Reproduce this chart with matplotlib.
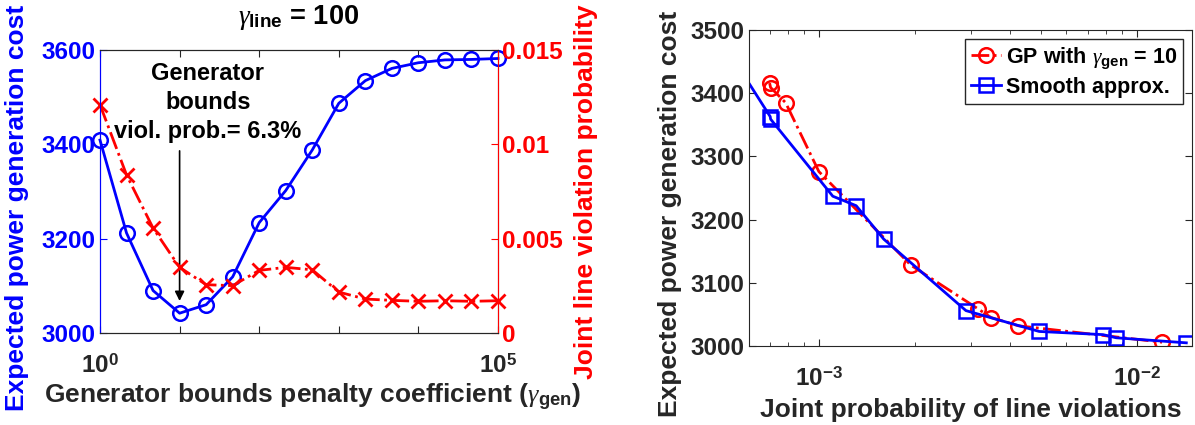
import numpy as np
import matplotlib.pyplot as plt
from matplotlib.ticker import FixedLocator, NullLocator, LogLocator, NullFormatter

plt.rcParams['font.family'] = ['Liberation Sans', 'DejaVu Sans']
plt.rcParams['font.weight'] = 'bold'
plt.rcParams['mathtext.fontset'] = 'custom'
plt.rcParams['mathtext.rm'] = 'Liberation Sans:bold'
plt.rcParams['mathtext.bf'] = 'Liberation Sans:bold'
plt.rcParams['mathtext.it'] = 'Liberation Serif:italic:weight=normal'

# left panel: sweep of generator penalty coefficient
gamma_gen = 10 ** (np.arange(16) / 3)
cost = [3409, 3212, 3090, 3042, 3060, 3119, 3234, 3302, 3388, 3487,
        3535, 3561, 3573, 3579, 3580, 3582]
line_prob = [0.0121, 0.00838, 0.00556, 0.00348, 0.00256, 0.00251, 0.00332,
             0.00348, 0.00335, 0.00217, 0.00180, 0.00173, 0.00168, 0.00171,
             0.00168, 0.00171]

# right panel: cost vs joint line violation probability
gp_prob = [7.0e-4, 7.05e-4, 7.86e-4, 1.0e-3, 1.945e-3, 3.16e-3, 3.48e-3, 4.24e-3, 1.2e-2]
gp_cost = [3416, 3409, 3385, 3276, 3128, 3059, 3045, 3032, 3006]
sm_prob = [5.0e-4, 7.03e-4, 7.05e-4, 1.106e-3, 1.31e-3, 1.60e-3, 2.90e-3, 4.93e-3,
           7.82e-3, 8.61e-3, 1.43e-2]
sm_cost = [3480, 3363, 3359, 3237, 3222, 3169, 3056, 3023, 3018, 3013, 3005]

gray = (0.15, 0.15, 0.15)
tfs = 17.5
lfs = 19

fig = plt.figure(figsize=(11.95, 4.25), dpi=100)

ax = fig.add_axes([100 / 1195, 1 - 333 / 425, 398 / 1195, 283 / 425])
ax.plot(gamma_gen, cost, '-o', color='b', lw=2, ms=10.5, mfc='none', mew=1.8, clip_on=False)
ax.set_xscale('log')
ax.set_xlim(1, 1e5)
ax.set_ylim(3000, 3600)
ax.set_yticks([3000, 3200, 3400, 3600])
ax.xaxis.set_major_locator(FixedLocator([1, 10, 100, 1e3, 1e4, 1e5]))
ax.xaxis.set_minor_locator(NullLocator())
ax.set_xticklabels([r'$10^{0}$', '', '', '', '', r'$10^{5}$'])
ax.tick_params(axis='y', colors='b', labelsize=tfs, direction='in', length=5, pad=3)
ax.tick_params(axis='x', colors=gray, labelsize=tfs, direction='in', length=5, top=True, pad=15)
ax.spines['left'].set_color('b')
ax.spines['bottom'].set_color(gray)
ax.spines['top'].set_color(gray)
ax.set_ylabel('Expected power generation cost', color='b', fontsize=lfs, fontweight='bold')
ax.yaxis.set_label_coords(-0.2085, 0.4417)
ax.yaxis.label.set_va('center')
ax.set_xlabel(r'Generator bounds penalty coefficient ($\gamma_{\mathbf{gen}}$)', color=gray,
              fontsize=lfs, fontweight='bold')
ax.xaxis.set_label_coords(0.533, -0.226)
ax.xaxis.label.set_va('center')
ax.set_title(r'$\gamma_{\mathbf{line}}$ = 100', fontsize=19.5, fontweight='bold', pad=19)

ax2 = ax.twinx()
ax2.plot(gamma_gen, line_prob, '-.x', color='r', lw=2, ms=10, mew=2, clip_on=False)
ax2.set_ylim(0, 0.015)
ax2.set_yticks([0, 0.005, 0.01, 0.015])
ax2.set_yticklabels(['0', '0.005', '0.01', '0.015'])
ax2.tick_params(axis='y', colors='r', labelsize=tfs, direction='in', length=5, pad=3)
ax2.spines['right'].set_color('r')
ax2.spines['left'].set_color('b')
ax2.spines['bottom'].set_color(gray)
ax2.spines['top'].set_color(gray)
ax2.set_ylabel('Joint line violation probability', color='r', fontsize=lfs, fontweight='bold')
ax2.yaxis.set_label_coords(1.221, 0.5)
ax2.yaxis.label.set_va('center')

ax.annotate('', xy=(10, 3062), xytext=(10, 3392),
            arrowprops=dict(arrowstyle='-|>', color='k', lw=1.2, mutation_scale=14))
ax.text(22.7, 3488, 'Generator\nbounds\nviol. prob.= 6.3%', ha='center', va='center',
        fontsize=17, fontweight='bold', linespacing=1.33)

# right panel
bx = fig.add_axes([749 / 1195, 1 - 346 / 425, 443 / 1195, 316 / 425])
bx.plot(gp_prob, gp_cost, '-.o', color='r', lw=2, ms=10.5, mfc='none', mew=1.8,
        label=r'GP with $\gamma_{\mathbf{gen}}$ = 10')
bx.plot(sm_prob, sm_cost, '-s', color='b', lw=2, ms=10, mfc='none', mew=1.8,
        label='Smooth approx.')
bx.set_xscale('log')
bx.set_xlim(6.03e-4, 0.0149)
bx.set_ylim(3000, 3500)
bx.set_yticks(np.arange(3000, 3501, 100))
bx.xaxis.set_major_locator(FixedLocator([1e-3, 1e-2]))
bx.set_xticklabels([r'$10^{-3}$', r'$10^{-2}$'])
bx.xaxis.set_minor_locator(LogLocator(base=10, subs=np.arange(2, 10)))
bx.xaxis.set_minor_formatter(NullFormatter())
bx.tick_params(which='both', colors=gray, labelsize=tfs, direction='in', top=True, right=True)
bx.tick_params(which='major', length=5)
bx.tick_params(which='minor', length=3)
bx.tick_params(axis='x', pad=15)
bx.tick_params(axis='y', pad=3)
for s in bx.spines.values():
    s.set_color(gray)
bx.set_ylabel('Expected power generation cost', color=gray, fontsize=lfs, fontweight='bold')
bx.yaxis.set_label_coords(-0.178, 0.419)
bx.yaxis.label.set_va('center')
bx.set_xlabel('Joint probability of line violations', color=gray, fontsize=lfs, fontweight='bold')
bx.xaxis.set_label_coords(0.501, -0.2025)
bx.xaxis.label.set_va('center')
leg = bx.legend(loc='upper right', fontsize=15.5, handlelength=1.4, handletextpad=0.2,
                borderaxespad=0.4, fancybox=False, framealpha=1, borderpad=0.3, labelspacing=0.3)
leg.get_frame().set_edgecolor(gray)
for t in leg.get_texts():
    t.set_color('k')

fig.savefig('out.png', dpi=100)
